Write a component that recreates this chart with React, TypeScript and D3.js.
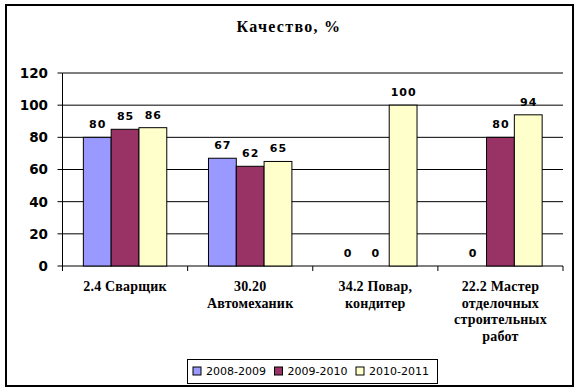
import React from "react";
import * as d3 from "d3";

const categories = ["2.4 Сварщик", "30.20 Автомеханик", "34.2 Повар, кондитер", "22.2 Мастер отделочных строительных работ"];
const categoryLines = [
  ["2.4 Сварщик"],
  ["30.20", "Автомеханик"],
  ["34.2 Повар,", "кондитер"],
  ["22.2 Мастер", "отделочных", "строительных", "работ"],
];
const seriesNames = ["2008-2009", "2009-2010", "2010-2011"];
const series2008 = [80, 67, 0, 0];
const series2009 = [85, 62, 0, 80];
const series2010 = [86, 65, 100, 94];
const yTicks = [0, 20, 40, 60, 80, 100, 120];
const colors = ["#9999FF", "#993366", "#FFFFCC"];

export default function App() {
  const W = 581, H = 392;
  const left = 62.5, right = 563, top = 73, bottom = 266;
  const values = [series2008, series2009, series2010];
  const x0 = d3.scaleBand<string>().domain(categories).range([left, right]).padding(0);
  const x1 = d3.scaleBand<string>().domain(seriesNames).range([0, x0.bandwidth()]).paddingInner(0).paddingOuter(0.75);
  const y = d3.scaleLinear().domain([0, 120]).range([bottom, top]);
  const sans = "'DejaVu Sans', Verdana, sans-serif";
  const serif = "'Liberation Serif', 'Times New Roman', serif";

  return (
    <svg width={W} height={H} style={{ position: "absolute", left: 0, top: 0 }}>
      <rect x={0} y={0} width={W} height={H} fill="#fff" />
      <rect x={6} y={5} width={567} height={381} fill="#fff" stroke="#000" strokeWidth={2} />
      <text x={289} y={32} textAnchor="middle" fontFamily={serif} fontWeight="bold" fontSize={16} letterSpacing={1.3}>
        Качество, %
      </text>
      {yTicks.map((t) => (
        <g key={t}>
          <line x1={left} x2={right} y1={y(t)} y2={y(t)} stroke="#000" strokeWidth={1} />
          <line x1={left - 5} x2={left} y1={y(t)} y2={y(t)} stroke="#000" strokeWidth={1} />
          <text x={48} y={y(t)} dy="0.36em" textAnchor="end" fontFamily={sans} fontWeight="bold" fontSize={13.5}>
            {t}
          </text>
        </g>
      ))}
      <line x1={left} x2={left} y1={top} y2={bottom + 5} stroke="#000" strokeWidth={1} />
      {categories.map((c) => {
        const tx = (x0(c) as number) + x0.bandwidth();
        return <line key={"tk" + c} x1={tx} x2={tx} y1={bottom} y2={bottom + 5} stroke="#000" strokeWidth={1} />;
      })}
      {categories.map((c, ci) => (
        <g key={c}>
          {seriesNames.map((s, si) => {
            const v = values[si][ci];
            const bx = (x0(c) as number) + (x1(s) as number);
            const cx = bx + x1.bandwidth() / 2;
            return (
              <g key={s}>
                {v > 0 && (
                  <rect x={bx} y={y(v)} width={x1.bandwidth()} height={bottom - y(v)} fill={colors[si]} stroke="#000" strokeWidth={1} />
                )}
                <text x={cx + 0.5} y={y(v) - 13} dy="0.36em" textAnchor="middle" fontFamily={sans} fontWeight="bold" fontSize={11} letterSpacing={1}>
                  {v}
                </text>
              </g>
            );
          })}
          {categoryLines[ci].map((ln, li) => (
            <text key={li} x={(x0(c) as number) + x0.bandwidth() / 2} y={291 + li * 16.7} textAnchor="middle" fontFamily={serif} fontWeight="bold" fontSize={14} letterSpacing={0.2}>
              {ln}
            </text>
          ))}
        </g>
      ))}
      <rect x={187.5} y={359.5} width={250} height={24} fill="#fff" stroke="#000" strokeWidth={1} />
      {seriesNames.map((s, si) => {
        const lx = 193 + si * 81.5;
        return (
          <g key={s}>
            <rect x={lx} y={367} width={8} height={8} fill={colors[si]} stroke="#000" strokeWidth={1} />
            <text x={lx + 13} y={371} dy="0.36em" fontFamily={sans} fontSize={11}>
              {s}
            </text>
          </g>
        );
      })}
    </svg>
  );
}
